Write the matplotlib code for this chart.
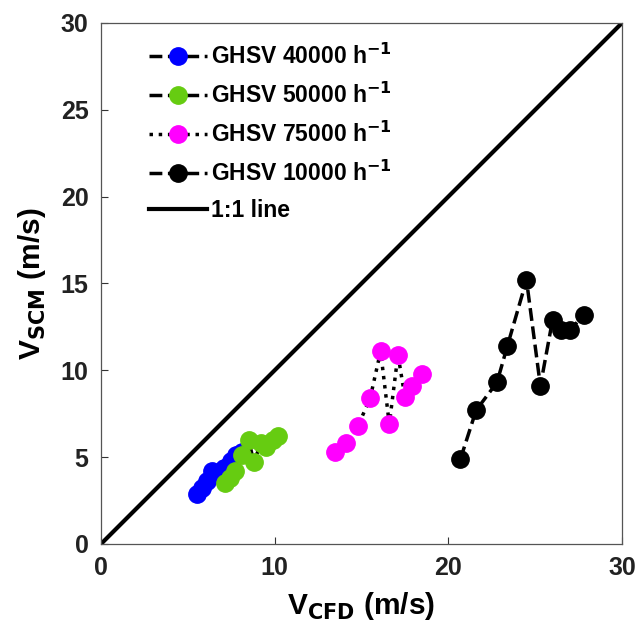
import matplotlib
matplotlib.use("Agg")
import matplotlib.pyplot as plt

plt.rcParams["font.family"] = ["Liberation Sans", "DejaVu Sans"]
plt.rcParams["font.weight"] = "bold"
plt.rcParams["mathtext.default"] = "bf"

# CFD vs SCM velocities (m/s) per GHSV
x_40k = [5.5, 5.8, 6.1, 6.4, 6.8, 7.1, 7.5, 7.8, 8.1]
y_40k = [2.9, 3.2, 3.6, 4.2, 4.0, 4.4, 4.8, 5.1, 5.3]
x_50k = [7.15, 7.4, 7.7, 8.1, 8.5, 8.8, 9.2, 9.5, 9.9, 10.2]
y_50k = [3.5, 3.8, 4.2, 5.1, 6.0, 4.7, 5.8, 5.6, 6.0, 6.2]
x_75k = [13.5, 14.1, 14.8, 15.5, 16.1, 16.6, 17.1, 17.5, 17.9, 18.5]
y_75k = [5.3, 5.8, 6.8, 8.4, 11.1, 6.9, 10.9, 8.45, 9.1, 9.8]
x_10k = [20.7, 21.6, 22.8, 23.4, 24.5, 25.3, 26.0, 26.5, 27.0, 27.8]
y_10k = [4.9, 7.7, 9.3, 11.4, 15.2, 9.1, 12.9, 12.3, 12.3, 13.2]
one_to_one = [0, 30]

fig = plt.figure(figsize=(6.36, 6.34), dpi=100)
ax = fig.add_axes([0.1588, 0.142, 0.8192, 0.8218])

ms = 12.5
ax.plot(x_40k, y_40k, "--", color="black", lw=2.5, marker="o", ms=ms,
        mfc="#0000ff", mec="#0000ff", label="GHSV 40000 h$^{-1}$")
ax.plot(x_50k, y_50k, "--", color="black", lw=2.5, marker="o", ms=ms,
        mfc="#66cc11", mec="#66cc11", label="GHSV 50000 h$^{-1}$")
ax.plot(x_75k, y_75k, ":", color="black", lw=2.5, marker="o", ms=ms,
        mfc="#ff00ff", mec="#ff00ff", label="GHSV 75000 h$^{-1}$")
ax.plot(x_10k, y_10k, "--", color="black", lw=2.5, marker="o", ms=ms,
        mfc="black", mec="black", label="GHSV 10000 h$^{-1}$")
ax.plot(one_to_one, one_to_one, "-", color="black", lw=3, label="1:1 line")

ax.set_xlim(0, 30)
ax.set_ylim(0, 30)
ax.set_xticks([0, 10, 20, 30])
ax.set_yticks([0, 5, 10, 15, 20, 25, 30])
ax.tick_params(direction="in", labelsize=18, length=5, width=0.8, colors="#333333",
               labelcolor="#222222", pad=9)
for s in ax.spines.values():
    s.set_color("#555555")
    s.set_linewidth(0.9)

ax.set_xlabel(r"V$_{\mathbf{CFD}}$ (m/s)", fontsize=21.5, fontweight="bold", labelpad=7)
ax.set_ylabel(r"V$_{\mathbf{SCM}}$ (m/s)", fontsize=21.5, fontweight="bold", labelpad=9)

leg = ax.legend(loc="upper left", frameon=False, fontsize=16.5, handlelength=2.5,
                borderaxespad=0.0, labelspacing=0.6, handletextpad=0.2,
                bbox_to_anchor=(0.075, 0.978))
for t in leg.get_texts():
    t.set_fontweight("bold")

fig.savefig("out.png", dpi=100)
